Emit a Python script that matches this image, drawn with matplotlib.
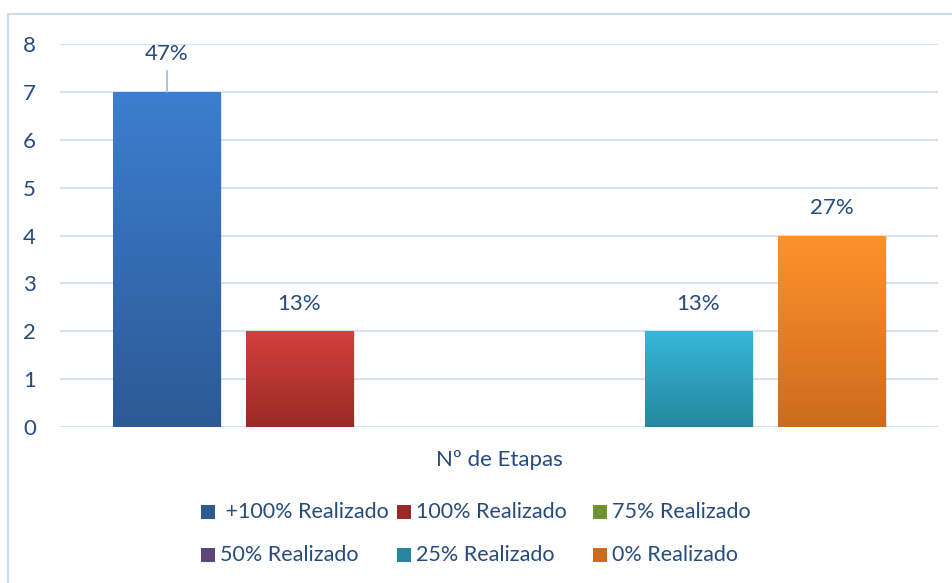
import matplotlib.pyplot as plt
import numpy as np
from matplotlib.colors import LinearSegmentedColormap
from matplotlib.patches import Rectangle

# data
category = "Nº de Etapas"
series = [" +100% Realizado", "100% Realizado", "75% Realizado",
          "50% Realizado", "25% Realizado", "0% Realizado"]
values = [7, 2, 0, 0, 2, 4]
labels = ["47%", "13%", "", "", "13%", "27%"]
yticks = [0, 1, 2, 3, 4, 5, 6, 7, 8]

# gradient colours (top, bottom)
colors = [("#3C7ED0", "#2C5A95"), ("#D3403B", "#9A2A27"), ("#9CC94C", "#6E9330"),
          ("#8166A6", "#5C4577"), ("#36B7DA", "#25879E"), ("#FF922C", "#CD6B1D")]
text_color = "#264B7E"
grid_color = "#D6E2F2"

plt.rcParams['font.family'] = ['Lato', 'DejaVu Sans']

W, H = 952, 583
fig = plt.figure(figsize=(W / 100, H / 100), dpi=100)
ax = fig.add_axes([60 / W, 1 - 427 / H, 878 / W, 383 / H])

# chart border
fig.patches.append(Rectangle((8 / W, -0.1), 1.2, 1 - 14 / H + 0.1,
                             transform=fig.transFigure, fill=False,
                             edgecolor="#CCDCEF", linewidth=1.5))

step = 133 / 878
width = 108 / 878
n = len(values)
xs = (np.arange(n) - (n - 1) / 2) * step

grad = np.linspace(0, 1, 256).reshape(-1, 1)
for i, (x, v) in enumerate(zip(xs, values)):
    if v <= 0:
        continue
    top, bot = colors[i]
    cmap = LinearSegmentedColormap.from_list("g%d" % i, [top, bot])
    # soft shadow
    ax.add_patch(Rectangle((x - width / 2 + 0.002, -0.03), width, v,
                           facecolor="#000000", alpha=0.10, edgecolor="none", zorder=2))
    bar = ax.bar(x, v, width=width, color="none", edgecolor="none", zorder=3)[0]
    im = ax.imshow(grad, cmap=cmap, aspect="auto", zorder=3, interpolation="bilinear",
                   extent=[x - width / 2, x + width / 2, 0, v], origin="upper")
    im.set_clip_path(bar)

# data labels
for i, (x, v, lab) in enumerate(zip(xs, values, labels)):
    if not lab:
        continue
    if v >= 7:
        ax.plot([x, x], [v, v + 0.43], color="#9DB9E0", linewidth=1.2, zorder=4)
        ax.text(x, v + 0.8, lab, ha="center", va="center", fontsize=16, color=text_color)
    else:
        ax.text(x, v + 0.57, lab, ha="center", va="center", fontsize=16, color=text_color)

ax.set_xlim(-0.5, 0.5)
ax.set_ylim(0, 8)
ax.set_yticks(yticks)
ax.set_xticks([])
ax.tick_params(axis="y", length=0, pad=22, labelsize=16, labelcolor=text_color)
for t in ax.get_yticklabels():
    t.set_horizontalalignment("center")
ax.yaxis.grid(True, color=grid_color, linewidth=1.5)
ax.set_axisbelow(True)
for s in ax.spines.values():
    s.set_visible(False)
ax.set_facecolor("none")

ax.text(0.5, -0.085, category, transform=ax.transAxes, ha="center", va="center",
        fontsize=16, color=text_color)

# legend, laid out like Excel: 3 columns, 2 rows
for i, name in enumerate(series):
    row, col = divmod(i, 3)
    mx = 201 + col * 196
    my = 512 + row * 43
    top, bot = colors[i]
    fig.patches.append(Rectangle((mx / W, 1 - (my + 7) / H), 14 / W, 14 / H,
                                 transform=fig.transFigure, facecolor=bot,
                                 edgecolor="none"))
    fig.text((mx + 19) / W, 1 - my / H, name, ha="left", va="center",
             fontsize=15.5, color=text_color)

fig.savefig("out.png", dpi=100)
